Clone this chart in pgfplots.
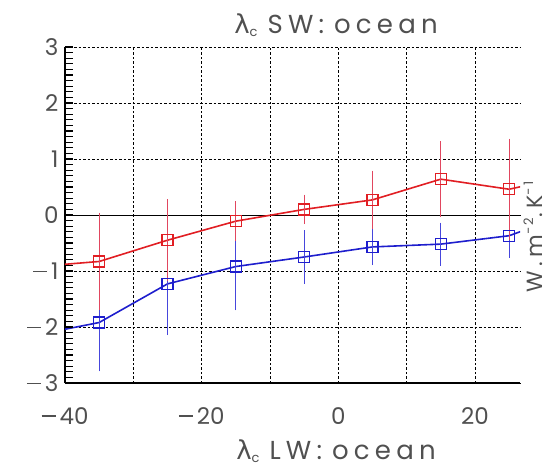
\documentclass[border=0pt]{standalone}
\usepackage{pgfplots}
\pgfplotsset{compat=1.18}
\usepackage{pgfplotstable}
\usepackage{fontspec}
\setmainfont{Poppins}
\newfontfamily\wide{Poppins}[LetterSpace=20]
\newfontfamily\greekfont{DejaVu Sans}
\definecolor{txt}{RGB}{80,80,80}
\definecolor{myred}{RGB}{225,30,35}
\definecolor{myblue}{RGB}{30,30,205}
\definecolor{errred}{RGB}{225,70,95}
\definecolor{errblue}{RGB}{70,70,220}
\newcommand{\mn}{\rule[7.5pt]{14pt}{1.3pt}\hspace{4pt}}

\pgfplotstableread{
x y e
-35 -0.83 0.82
-25 -0.45 0.68
-15 -0.11 0.30
-5 0.10 0.21
5 0.27 0.47
15 0.64 0.62
25 0.46 0.85
}\redtab
\pgfplotstableread{
x y e
-35 -1.92 0.82
-25 -1.23 0.86
-15 -0.92 0.73
-5 -0.75 0.42
5 -0.57 0.27
15 -0.52 0.33
25 -0.37 0.34
}\bluetab

\begin{document}
\begin{tikzpicture}
\path[use as bounding box] (-65pt,-84pt) rectangle (486pt,383pt);
\begin{axis}[at={(0pt,0pt)}, anchor=south west, scale only axis,
  width=455pt, height=336pt,
  xmin=-40, xmax=26.6, ymin=-3, ymax=3,
  axis lines=left,
  axis line style={-, black, line width=1.2pt},
  xtick={-40,-30,-20,-10,0,10,20}, xticklabels={\mn40,,\mn20,,0,,20},
  ytick={-3,-2,-1,0,1,2,3}, yticklabels={\mn3,\mn2,\mn1,0,1,2,3},
  minor y tick num=9,
  xmajorgrids, ymajorgrids,
  major grid style={black, dash pattern=on 2.5pt off 2pt, line width=0.6pt},
  tick align=inside, major tick length=8pt, minor tick length=7pt,
  tick style={black, line width=1.2pt},
  xtick style={draw=none},
  ticklabel style={font=\fontsize{23}{23}\selectfont, text=txt},
  xticklabel style={anchor=base, yshift=-41pt},
  yticklabel style={xshift=-3pt},
  clip=true,
]
\draw[black, line width=0.8pt] (axis cs:-40,0) -- (axis cs:26.6,0);
\addplot[myblue, line width=1.6pt, forget plot] coordinates {
(-45,-2.16) (-35,-1.92) (-25,-1.23) (-15,-0.92) (-5,-0.75) (5,-0.57) (15,-0.52) (25,-0.37) (35,0.07)};
\addplot[only marks, mark=square, mark size=5.5pt, mark options={myblue, line width=1.4pt, fill=none},
  error bars/.cd, y dir=both, y explicit,
  error bar style={errblue, line width=0.6pt},
  error mark options={errblue, mark size=3pt, line width=0.6pt}]
  table[x=x, y=y, y error=e] {\bluetab};
\addplot[myred, line width=1.6pt, forget plot] coordinates {
(-45,-0.93) (-35,-0.83) (-25,-0.45) (-15,-0.11) (-5,0.10) (5,0.27) (15,0.64) (25,0.46) (35,0.73)};
\addplot[only marks, mark=square, mark size=5.5pt, mark options={myred, line width=1.4pt, fill=none},
  error bars/.cd, y dir=both, y explicit,
  error bar style={errred, line width=0.6pt},
  error mark options={errred, mark size=3pt, line width=0.6pt}]
  table[x=x, y=y, y error=e] {\redtab};
\end{axis}
% left-axis tick marks, every 0.1 unit (5.6pt)
\foreach \i in {1,...,59} {\draw[black, line width=1.2pt] (0pt,{\i*5.6pt}) -- ({8pt},{\i*5.6pt});}
\node[anchor=base, text=txt, font=\fontsize{26}{26}\wide] at (271pt,350pt)
  {{\greekfont λ}\raisebox{-3pt}{\fontsize{13}{13}\selectfont c}\hspace{10pt}SW:\hspace{10pt}ocean};
\node[anchor=base, text=txt, font=\fontsize{26}{26}\wide] at (271pt,-76pt)
  {{\greekfont λ}\raisebox{-3pt}{\fontsize{13}{13}\selectfont c}\hspace{10pt}LW:\hspace{10pt}ocean};
\node[anchor=base, rotate=90, text=txt, font=\fontsize{22}{22}\wide] at (477pt,146pt)
  {W.m\raisebox{9pt}{\fontsize{13}{13}\selectfont −2}.K\raisebox{9pt}{\fontsize{13}{13}\selectfont −1}};
\end{tikzpicture}
\end{document}
